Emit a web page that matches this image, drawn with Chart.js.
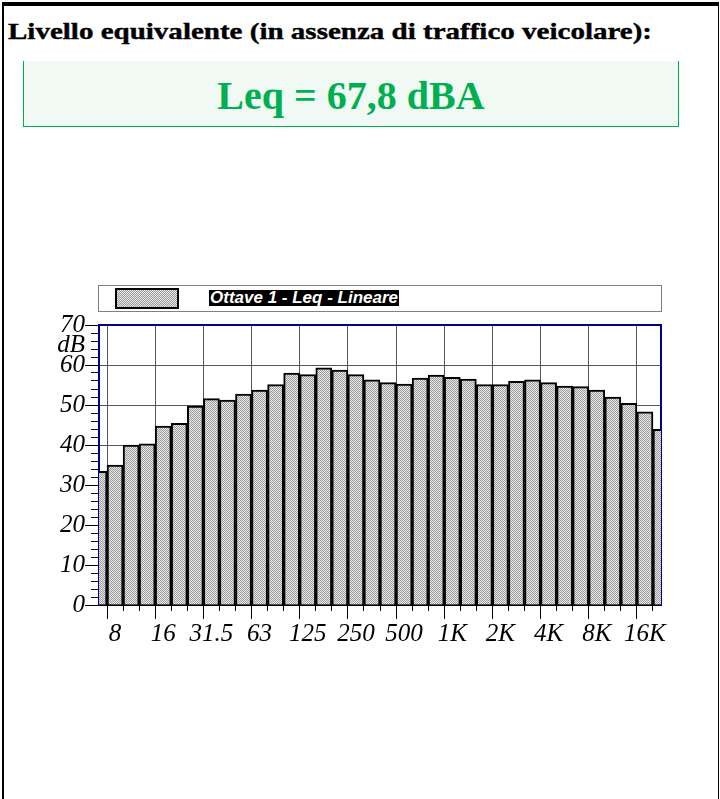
<!DOCTYPE html>
<html>
<head>
<meta charset="utf-8">
<script src="https://cdn.jsdelivr.net/npm/chart.js@4.4.1/dist/chart.umd.min.js"></script>
<style>
  html, body { margin: 0; padding: 0; background: #fff; }
  #page { position: relative; width: 720px; height: 799px; overflow: hidden; }
  #frame {
    position: absolute; left: 2px; top: 2px; width: 714px; height: 820px;
    border-top: 4px solid #000; border-left: 2px solid #000; border-right: 1px solid #000;
  }
  #title {
    position: absolute; left: 8px; top: 19px; white-space: nowrap;
    font: bold 24px/24px "Liberation Serif", serif; color: #000;
    -webkit-text-stroke: 0.4px #000;
    transform-origin: 0 0;
  }
  #leqBox {
    position: absolute; left: 23px; top: 61px; width: 656px; height: 66px; box-sizing: border-box;
    background: #f0f9f3; border: 1px solid #00b050; border-top: none;
  }
  #leqText {
    position: absolute; left: 0; right: 0; top: 15px; text-align: center;
    font: bold 40px/40px "Liberation Serif", serif; color: #00b050;
  }
  #legendBox {
    position: absolute; left: 98px; top: 285px; width: 564px; height: 27px; box-sizing: border-box;
    border: 1px solid #808080; background: #fff;
  }
  #legendSwatch {
    position: absolute; left: 16px; top: 2px; width: 64px; height: 21px; box-sizing: border-box;
    border: 2px solid #000; image-rendering: pixelated;
  }
  #legendText {
    position: absolute; left: 110px; top: 4px; padding: 0 1px;
    font: italic bold 17px/16px "Liberation Sans", Arial, sans-serif;
    background: #000; color: #fff; white-space: nowrap;
  }
  #bpChart { position: absolute; left: 0; top: 300px; }
</style>
</head>
<body>
<div id="page">
  <div id="frame"></div>
  <div id="title">Livello equivalente (in assenza di traffico veicolare):</div>
  <div id="leqBox"><div id="leqText">Leq = 67,8 dBA</div></div>
  <div id="legendBox"><div id="legendSwatch"></div><div id="legendText"></div></div>
  <canvas id="bpChart" width="720" height="360"></canvas>
</div>
<script>
// Third-octave bands (Hz) and measured linear Leq (dB)
const freqLabels = ['6.3', '8', '10', '12.5', '16', '20', '25', '31.5', '40', '50', '63', '80',
  '100', '125', '160', '200', '250', '315', '400', '500', '630', '800', '1K', '1.25K',
  '1.6K', '2K', '2.5K', '3.15K', '4K', '5K', '6.3K', '8K', '10K', '12.5K', '16K', '20K'];
const leqValues = [33.4, 35.0, 40.0, 40.3, 44.7, 45.4, 49.7, 51.6, 51.2, 52.7, 53.7, 55.1,
  58.0, 57.6, 59.3, 58.7, 57.6, 56.3, 55.6, 55.2, 56.7, 57.5, 56.9, 56.5,
  55.1, 55.1, 55.9, 56.3, 55.6, 54.7, 54.6, 53.7, 52.0, 50.4, 48.3, 43.9];
const yMin = 0;
const yMax = 70;
const unitLabel = 'dB';
const seriesLabel = 'Ottave 1 - Leq - Lineare';

const NAVY = '#000080';
const GRID = '#555555';
const NONE = 'rgba(0,0,0,0)';
const tickFont = { family: 'Liberation Serif', style: 'italic', size: 25 };

// grey dithered fill used by the bars and the legend swatch
function makeHatchCanvas() {
  const c = document.createElement('canvas');
  c.width = 2;
  c.height = 2;
  const g = c.getContext('2d');
  g.fillStyle = '#e8e8e8';
  g.fillRect(0, 0, 2, 2);
  g.fillStyle = '#9c9c9c';
  g.fillRect(0, 0, 1, 1);
  g.fillRect(1, 1, 1, 1);
  return c;
}

document.addEventListener('DOMContentLoaded', () => {
  // stretch title to the width it has in the original
  const title = document.getElementById('title');
  const w = title.getBoundingClientRect().width;
  title.style.transform = `scaleX(${644 / w})`;

  const hatch = makeHatchCanvas();
  document.getElementById('legendSwatch').style.background = `url(${hatch.toDataURL()})`;
  document.getElementById('legendText').textContent = seriesLabel;

  const ctx = document.getElementById('bpChart').getContext('2d');
  const pattern = ctx.createPattern(hatch, 'repeat');

  new Chart(ctx, {
    type: 'bar',
    data: {
      labels: freqLabels,
      datasets: [
        {
          label: seriesLabel,
          data: leqValues,
          backgroundColor: pattern,
          borderColor: '#000',
          borderWidth: 2,
          borderSkipped: 'start',
          barPercentage: 1,
          categoryPercentage: 1,
          clip: 0,
        },
      ],
    },
    options: {
      responsive: false,
      animation: false,
      events: [],
      layout: { padding: { left: 0, right: 59, top: 25, bottom: 0 } },
      plugins: {
        legend: { display: false },
        tooltip: { enabled: false },
      },
      scales: {
        // short ticks on every band, grid lines on every octave
        x: {
          type: 'category',
          position: 'bottom',
          offset: false,
          weight: 0,
          border: { color: '#000', width: 2 },
          grid: {
            color: (c) => (c.index % 3 === 1 ? GRID : NONE),
            tickColor: '#000',
            tickLength: 6,
            lineWidth: 1,
          },
          ticks: { display: false },
          afterFit: (s) => { s.height = 6; },
        },
        // longer ticks + labels on the octaves
        x2: {
          type: 'category',
          position: 'bottom',
          offset: false,
          weight: 1,
          border: { display: false },
          grid: {
            drawOnChartArea: false,
            tickColor: (c) => (c.index % 3 === 1 ? '#000' : NONE),
            tickLength: 8,
          },
          ticks: {
            autoSkip: false,
            maxRotation: 0,
            padding: 0,
            color: '#000',
            font: tickFont,
            callback: function (v, i) {
              return i % 3 === 1 ? this.getLabelForValue(v) : '';
            },
          },
          afterFit: (s) => { s.height = 49; },
        },
        xTop: {
          type: 'category',
          position: 'top',
          offset: false,
          border: { color: NAVY, width: 2 },
          grid: { drawOnChartArea: false, drawTicks: false },
          ticks: { display: false },
        },
        y: {
          min: yMin,
          max: yMax,
          position: 'left',
          weight: 0,
          border: { color: NAVY, width: 2 },
          grid: { drawOnChartArea: false, tickColor: '#000', tickLength: 8 },
          ticks: { display: false, stepSize: 2 },
          afterFit: (s) => { s.width = 8; },
        },
        y2: {
          min: yMin,
          max: yMax,
          position: 'left',
          weight: 1,
          border: { display: false },
          grid: {
            color: (c) => (c.tick.value % 10 === 0 && c.tick.value > yMin && c.tick.value < yMax ? GRID : NONE),
            tickColor: (c) => (c.tick.value % 10 === 0 ? '#000' : NONE),
            tickLength: 6,
            lineWidth: 1,
          },
          ticks: {
            stepSize: 5,
            autoSkip: false,
            padding: 0,
            color: '#000',
            font: tickFont,
            callback: (v) => {
              if (v % 10 === 0) return String(v);
              if (v === yMax - 5) return unitLabel;
              return '';
            },
          },
          afterFit: (s) => { s.width = 91; },
        },
        yRight: {
          min: yMin,
          max: yMax,
          position: 'right',
          border: { color: NAVY, width: 2 },
          grid: { drawOnChartArea: false, drawTicks: false },
          ticks: { display: false },
        },
      },
    },
  });
});
</script>
</body>
</html>
